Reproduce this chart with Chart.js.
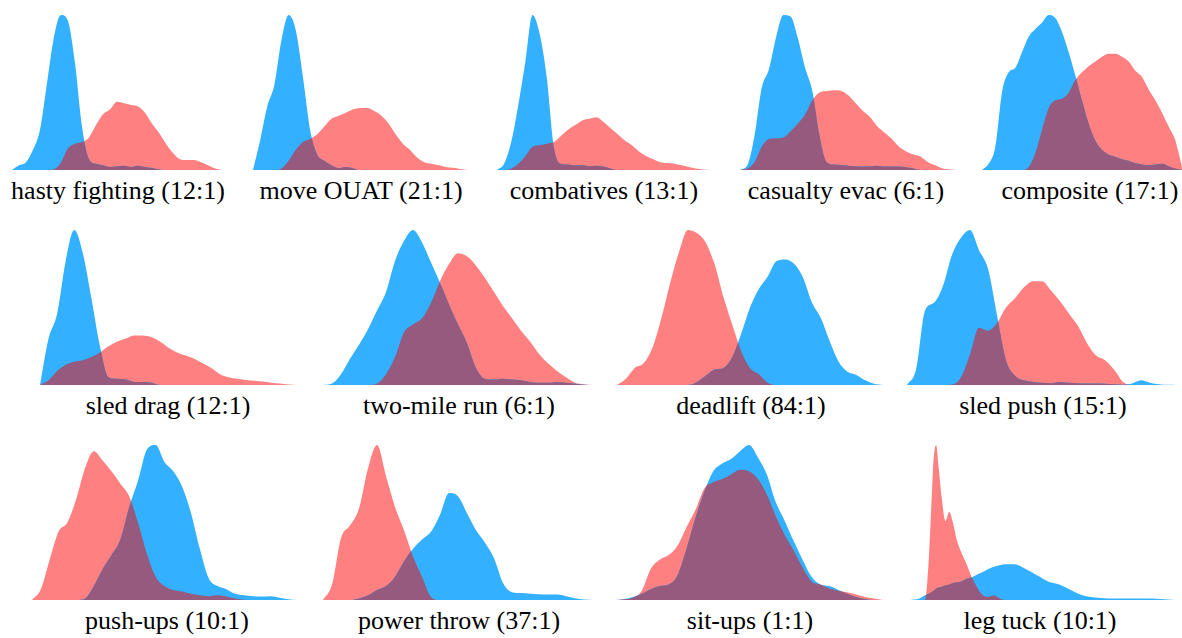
<!DOCTYPE html>
<html>
<head>
<meta charset="utf-8">
<script src="https://cdn.jsdelivr.net/npm/chart.js@4"></script>
<style>
html, body { margin: 0; padding: 0; background: #ffffff; }
body { width: 1182px; height: 638px; position: relative; overflow: hidden; }
.panel { position: absolute; }
.label { position: absolute; width: 320px; text-align: center; font-family: "Liberation Serif", "Times New Roman", serif; font-size: 26px; line-height: 26px; color: #000; white-space: nowrap; }
</style>
</head>
<body>
<script>
// ---- data (densities normalised to each panel's tallest peak) ----
const titles = ["hasty fighting (12:1)", "move OUAT (21:1)", "combatives (13:1)", "casualty evac (6:1)", "composite (17:1)",
  "sled drag (12:1)", "two-mile run (6:1)", "deadlift (84:1)", "sled push (15:1)",
  "push-ups (10:1)", "power throw (37:1)", "sit-ups (1:1)", "leg tuck (10:1)"];

const steps = [0,1,2,3,4,5,6,7,8,9,10,11,12,13,14,15,16,17,18,19,20,21,22,23,24,25,26,27,28,29,30];
const legTuckSteps = [830,855,870,880,887,893,900,907,915,925,935,945,955,967,980,995,1010,1025,1040,1055,1070,1085,1110,1140,1170,1200,1230,1260,1290,1320,1360,1400,1450,1500,1540];

const hastyBlue = [0,0.03,0.05,0.13,0.26,0.56,0.86,1.0,0.96,0.69,0.28,0.07,0.04,0.03,0.02,0.025,0.028,0.02,0.028,0.02,0.013,0.004,0,0,0,0,0,0,0,0,0];
const hastyRed = [0,0,0,0,0,0,0.005,0.05,0.14,0.17,0.18,0.21,0.29,0.36,0.39,0.44,0.43,0.42,0.41,0.37,0.30,0.24,0.17,0.11,0.07,0.065,0.065,0.05,0.03,0.01,0];

const ouatBlue = [0,0.19,0.41,0.55,0.84,1.0,0.90,0.60,0.26,0.10,0.06,0.03,0.012,0.02,0.012,0,0,0,0,0,0,0,0,0,0,0,0,0,0,0,0];
const ouatRed = [0,0,0,0,0.01,0.06,0.13,0.18,0.20,0.23,0.28,0.33,0.35,0.37,0.39,0.40,0.40,0.38,0.35,0.30,0.23,0.17,0.13,0.08,0.05,0.04,0.03,0.02,0.015,0.007,0];

const combBlue = [0,0.04,0.18,0.42,0.70,1.0,0.88,0.60,0.15,0.04,0.035,0.03,0.03,0.025,0.028,0.022,0.01,0,0,0,0,0,0,0,0,0,0,0,0,0,0];
const combRed = [0,0,0.01,0.04,0.09,0.15,0.16,0.17,0.18,0.22,0.26,0.29,0.32,0.33,0.34,0.31,0.27,0.23,0.19,0.16,0.12,0.09,0.07,0.05,0.045,0.04,0.03,0.02,0.01,0.003,0];

const evacBlue = [0,0.03,0.22,0.53,0.65,0.86,1.0,0.99,0.85,0.66,0.51,0.22,0.05,0.035,0.032,0.028,0.025,0.022,0.025,0.028,0.022,0.022,0.022,0.018,0.01,0,0,0,0,0,0];
const evacRed = [0,0.01,0.05,0.15,0.20,0.205,0.21,0.25,0.30,0.36,0.45,0.50,0.51,0.515,0.51,0.48,0.43,0.38,0.34,0.28,0.24,0.20,0.15,0.12,0.10,0.085,0.05,0.03,0.01,0.003,0];

const compBlue = [0,0.04,0.15,0.50,0.63,0.66,0.76,0.86,0.91,0.95,1.0,0.98,0.89,0.76,0.61,0.45,0.30,0.19,0.13,0.10,0.085,0.07,0.06,0.045,0.035,0.03,0.035,0.04,0.025,0.01,0];
const compRed = [0,0,0,0,0,0,0,0.02,0.11,0.26,0.40,0.45,0.46,0.50,0.58,0.63,0.67,0.70,0.73,0.75,0.75,0.73,0.70,0.64,0.60,0.52,0.45,0.37,0.28,0.19,0.02];

const dragBlue = [0,0.30,0.46,0.80,1.0,0.85,0.56,0.25,0.05,0.04,0.035,0.02,0.02,0.015,0,0,0,0,0,0,0,0,0,0,0,0,0,0,0,0,0];
const dragRed = [0,0.03,0.09,0.13,0.15,0.16,0.18,0.21,0.25,0.28,0.30,0.32,0.32,0.31,0.28,0.24,0.21,0.19,0.17,0.14,0.11,0.07,0.05,0.04,0.033,0.028,0.022,0.015,0.01,0.004,0];

const runBlue = [0,0.01,0.07,0.17,0.26,0.36,0.48,0.60,0.80,0.93,1.0,0.92,0.79,0.66,0.52,0.39,0.27,0.11,0.04,0.035,0.04,0.035,0.03,0.02,0.015,0.015,0.02,0.015,0.008,0.002,0];
const runRed = [0,0,0,0,0,0,0.01,0.07,0.18,0.34,0.39,0.43,0.53,0.67,0.78,0.85,0.83,0.77,0.69,0.60,0.51,0.43,0.35,0.28,0.20,0.14,0.09,0.05,0.015,0.005,0];

const liftBlue = [0,0,0,0,0,0,0,0,0,0.02,0.06,0.10,0.11,0.18,0.33,0.50,0.62,0.70,0.80,0.81,0.78,0.69,0.53,0.43,0.28,0.15,0.085,0.065,0.03,0.008,0];
const liftRed = [0,0.04,0.11,0.14,0.24,0.43,0.66,0.86,1.0,0.98,0.92,0.78,0.57,0.39,0.22,0.11,0.07,0.015,0,0,0,0,0,0,0,0,0,0,0,0,0];

const pushBlue = [0,0.10,0.48,0.53,0.64,0.84,0.95,1.0,0.87,0.75,0.45,0.16,0.06,0.03,0.02,0.015,0.012,0.02,0.015,0.012,0.01,0.01,0.008,0.005,0.002,0.01,0.03,0.015,0.005,0.001,0];
const pushRed = [0,0,0,0,0,0.003,0.05,0.20,0.37,0.35,0.40,0.50,0.56,0.63,0.67,0.67,0.61,0.54,0.46,0.38,0.27,0.19,0.16,0.10,0.02,0,0,0,0,0,0];

const pushupBlue = [0,0,0,0,0,0,0.01,0.09,0.20,0.29,0.39,0.60,0.77,0.97,1.0,0.89,0.83,0.73,0.56,0.33,0.14,0.09,0.07,0.04,0.03,0.025,0.022,0.025,0.015,0.005,0];
const pushupRed = [0,0.07,0.26,0.44,0.50,0.65,0.85,0.96,0.90,0.83,0.75,0.67,0.50,0.30,0.15,0.09,0.065,0.055,0.04,0.03,0.025,0.03,0.022,0.01,0.001,0,0,0,0,0,0];

const throwBlue = [0,0,0,0,0.01,0.03,0.065,0.09,0.15,0.25,0.33,0.39,0.44,0.55,0.69,0.67,0.56,0.45,0.37,0.27,0.11,0.05,0.045,0.04,0.037,0.035,0.035,0.025,0.012,0.004,0];
const throwRed = [0,0.10,0.40,0.48,0.59,0.85,1.0,0.80,0.60,0.45,0.28,0.15,0.02,0,0,0,0,0,0,0,0,0,0,0,0,0,0,0,0,0,0];

const situpBlue = [0,0.005,0.02,0.04,0.07,0.09,0.10,0.16,0.33,0.53,0.70,0.83,0.88,0.91,0.96,1.0,0.92,0.81,0.63,0.51,0.38,0.26,0.15,0.10,0.09,0.065,0.04,0.02,0.005,0,0];
const situpRed = [0,0.005,0.015,0.06,0.20,0.26,0.29,0.35,0.47,0.58,0.72,0.76,0.78,0.81,0.84,0.83,0.78,0.68,0.54,0.42,0.32,0.21,0.12,0.10,0.075,0.06,0.05,0.035,0.02,0.01,0];

const tuckBlue = [0,0.01,0.03,0.04,0.05,0.06,0.075,0.08,0.085,0.095,0.1,0.11,0.115,0.12,0.135,0.145,0.165,0.18,0.2,0.215,0.225,0.23,0.23,0.2,0.16,0.12,0.1,0.065,0.033,0.017,0.01,0.01,0.01,0.007,0];
const tuckRed = [0,0,0,0.25,0.6,0.9,1.0,0.85,0.66,0.51,0.57,0.5,0.39,0.31,0.24,0.15,0.08,0.03,0.02,0.03,0.01,0,0,0,0,0,0,0,0,0,0,0,0,0,0];

// ---- styles / layout ----
const BLUE = '#33b0ff';
const RED = '#ff8080';
const OVERLAP = '#955a7d';

const seriesList = [
  [hastyBlue, hastyRed, steps], [ouatBlue, ouatRed, steps], [combBlue, combRed, steps], [evacBlue, evacRed, steps], [compBlue, compRed, steps],
  [dragBlue, dragRed, steps], [runBlue, runRed, steps], [liftBlue, liftRed, steps], [pushBlue, pushRed, steps],
  [pushupBlue, pushupRed, steps], [throwBlue, throwRed, steps], [situpBlue, situpRed, steps], [tuckBlue, tuckRed, legTuckSteps]
];
// [left, top, width, height, labelCenterX, labelTop]
const layout = [
  [12, 15, 210, 155, 118, 178], [253, 15, 214, 155, 361, 178], [497, 15, 213, 155, 604, 178], [740, 15, 217, 155, 846, 178], [982, 15, 200, 155, 1090, 178],
  [40, 230, 257, 155, 168, 393], [323, 230, 270, 155, 459, 393], [617, 230, 266, 155, 751, 393], [907, 230, 270, 155, 1043, 393],
  [32, 445, 265, 155, 167, 608], [323, 445, 270, 155, 459, 608], [615, 445, 268, 155, 750, 608], [910, 445, 265, 155, 1040, 608]
];

const overlapPlugin = {
  id: 'overlap',
  afterDatasetsDraw(chart) {
    const ctx = chart.ctx;
    const base = chart.scales.y.getPixelForValue(0);
    const lineA = chart.getDatasetMeta(0).dataset;
    const lineB = chart.getDatasetMeta(1).dataset;
    function area(line) {
      const pts = line.points;
      ctx.beginPath();
      line.path(ctx);
      ctx.lineTo(pts[pts.length - 1].x, base);
      ctx.lineTo(pts[0].x, base);
      ctx.closePath();
    }
    ctx.save();
    area(lineA);
    ctx.clip();
    area(lineB);
    ctx.fillStyle = OVERLAP;
    ctx.fill();
    ctx.restore();
  }
};

function toPoints(xs, ys) { return xs.map((x, i) => ({ x: x, y: ys[i] })); }

seriesList.forEach((s, i) => {
  const [blue, red, xs] = s;
  const [left, top, w, h, lx, lt] = layout[i];
  const wrap = document.createElement('div');
  wrap.className = 'panel';
  wrap.style.left = left + 'px'; wrap.style.top = top + 'px';
  wrap.style.width = w + 'px'; wrap.style.height = h + 'px';
  const cv = document.createElement('canvas');
  cv.width = w; cv.height = h;
  cv.style.width = w + 'px'; cv.style.height = h + 'px';
  wrap.appendChild(cv);
  document.body.appendChild(wrap);

  const lab = document.createElement('div');
  lab.className = 'label';
  lab.style.left = (lx - 160) + 'px';
  lab.style.top = lt + 'px';
  lab.textContent = titles[i];
  document.body.appendChild(lab);

  const ds = (data, color) => ({
    data: data, backgroundColor: color, borderColor: 'rgba(0,0,0,0)', borderWidth: 0,
    fill: 'origin', pointRadius: 0, cubicInterpolationMode: 'monotone'
  });
  new Chart(cv, {
    type: 'line',
    data: { datasets: [ds(toPoints(xs, blue), BLUE), ds(toPoints(xs, red), RED)] },
    options: {
      responsive: false, animation: false, events: [],
      layout: { padding: 0 },
      plugins: { legend: { display: false }, tooltip: { enabled: false }, title: { display: false } },
      scales: {
        x: { type: 'linear', display: false, min: xs[0], max: xs[xs.length - 1] },
        y: { display: false, min: 0, max: 1 }
      }
    },
    plugins: [overlapPlugin]
  });
});
</script>
</body>
</html>
